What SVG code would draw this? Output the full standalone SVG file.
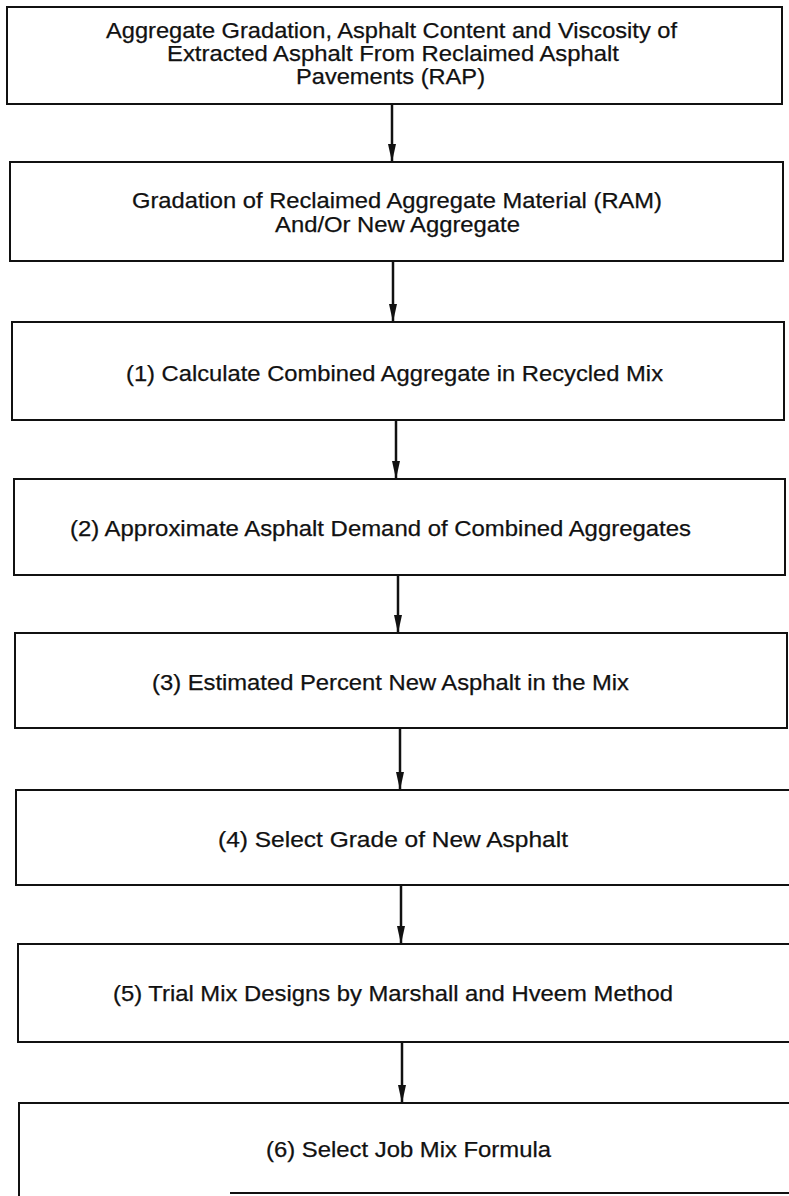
<svg xmlns="http://www.w3.org/2000/svg" width="789" height="1196" viewBox="0 0 789 1196">
<style>
.box{fill:#fff;stroke:#111;stroke-width:2}
.t{font-family:"Liberation Sans",Arial,sans-serif;font-size:22px;fill:#111;stroke:#111;stroke-width:0.25}
.c{stroke:#111;stroke-width:2.5;fill:none}
</style>
<defs>
<marker id="ah" viewBox="0 0 18 8" refX="18" refY="4" markerWidth="18" markerHeight="8" markerUnits="userSpaceOnUse" orient="auto">
<path d="M0,0 L18,4 L0,8 Z" fill="#111"/>
</marker>
</defs>
<rect x="0" y="0" width="789" height="1196" fill="#fff"/>
<g id="connectors">
<line class="c" x1="392" y1="104" x2="392" y2="162" marker-end="url(#ah)"/>
<line class="c" x1="393" y1="261" x2="393" y2="322" marker-end="url(#ah)"/>
<line class="c" x1="396" y1="420" x2="396" y2="479" marker-end="url(#ah)"/>
<line class="c" x1="398" y1="575" x2="398" y2="633" marker-end="url(#ah)"/>
<line class="c" x1="400" y1="728" x2="400" y2="790" marker-end="url(#ah)"/>
<line class="c" x1="401" y1="885" x2="401" y2="944" marker-end="url(#ah)"/>
<line class="c" x1="402" y1="1042" x2="402" y2="1103" marker-end="url(#ah)"/>
</g>
<g id="n1">
<rect class="box" x="7" y="7" width="775" height="97"/>
<text class="t" x="106" y="38" textLength="571" lengthAdjust="spacingAndGlyphs">Aggregate Gradation, Asphalt Content and Viscosity of</text>
<text class="t" x="167" y="61" textLength="452" lengthAdjust="spacingAndGlyphs">Extracted Asphalt From Reclaimed Asphalt</text>
<text class="t" x="296" y="84" textLength="189" lengthAdjust="spacingAndGlyphs">Pavements (RAP)</text>
</g>
<g id="n2">
<rect class="box" x="10" y="162" width="773" height="99"/>
<text class="t" x="132" y="208" textLength="530" lengthAdjust="spacingAndGlyphs">Gradation of Reclaimed Aggregate Material (RAM)</text>
<text class="t" x="275" y="232" textLength="245" lengthAdjust="spacingAndGlyphs">And/Or New Aggregate</text>
</g>
<g id="n3">
<rect class="box" x="12" y="322" width="772" height="98"/>
<text class="t" x="126" y="381" textLength="537" lengthAdjust="spacingAndGlyphs">(1) Calculate Combined Aggregate in Recycled Mix</text>
</g>
<g id="n4">
<rect class="box" x="14" y="479" width="771" height="96"/>
<text class="t" x="70" y="536" textLength="621" lengthAdjust="spacingAndGlyphs">(2) Approximate Asphalt Demand of Combined Aggregates</text>
</g>
<g id="n5">
<rect class="box" x="15" y="633" width="772" height="95"/>
<text class="t" x="152" y="690" textLength="477" lengthAdjust="spacingAndGlyphs">(3) Estimated Percent New Asphalt in the Mix</text>
</g>
<g id="n6">
<rect class="box" x="16" y="790" width="780" height="95"/>
<text class="t" x="218" y="847" textLength="350" lengthAdjust="spacingAndGlyphs">(4) Select Grade of New Asphalt</text>
</g>
<g id="n7">
<rect class="box" x="18" y="944" width="780" height="98"/>
<text class="t" x="113" y="1001" textLength="560" lengthAdjust="spacingAndGlyphs">(5) Trial Mix Designs by Marshall and Hveem Method</text>
</g>
<g id="n8">
<path d="M795,1103 L19,1103 L19,1200" fill="none" stroke="#111" stroke-width="2"/>
<line x1="230" y1="1193" x2="795" y2="1193" stroke="#111" stroke-width="2"/>
<text class="t" x="266" y="1157" textLength="285" lengthAdjust="spacingAndGlyphs">(6) Select Job Mix Formula</text>
</g>
</svg>
